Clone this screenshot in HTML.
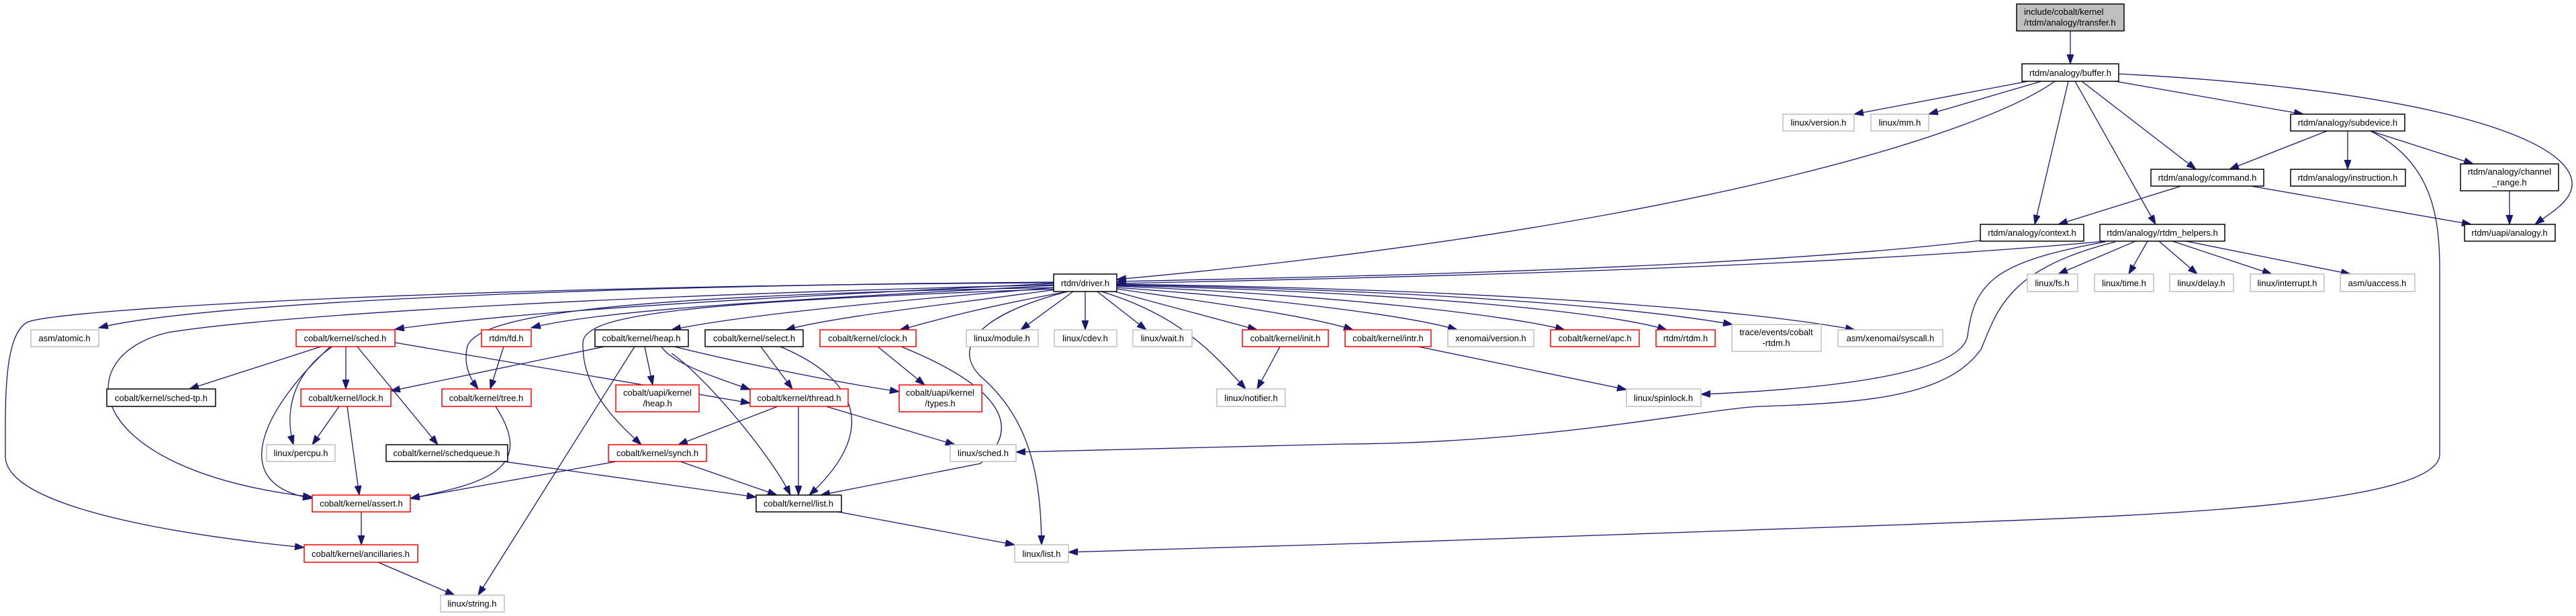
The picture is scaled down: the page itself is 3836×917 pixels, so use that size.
<!DOCTYPE html>
<html><head><meta charset="utf-8"><style>
html,body{margin:0;padding:0;background:#fff;}
svg{display:block;}
text{font-family:"Liberation Sans",Arial,sans-serif;font-size:13px;fill:#000;}
.e{fill:none;stroke:#191970;stroke-width:1.3;marker-end:url(#a);}
.g{fill:#fff;stroke:#bfbfbf;stroke-width:1.5;}
.r{fill:#fff;stroke:#ff0000;stroke-width:1.5;}
.k{fill:#fff;stroke:#000;stroke-width:1.5;}
</style></head><body>
<svg width="3836" height="917" viewBox="0 0 3836 917" xmlns="http://www.w3.org/2000/svg">
<defs><marker id="a" markerUnits="userSpaceOnUse" markerWidth="16" markerHeight="12" refX="14" refY="5" orient="auto"><path d="M0,0 L14,5 L0,10 Z" fill="#191970" stroke="#191970"/></marker></defs>

<!-- edges -->
<path class="e" d="M3083,46 L3083,95"/>
<path class="e" d="M3020,121 L2761,170"/>
<path class="e" d="M3040,121 L2872,170"/>
<path class="e" d="M3060,121 C2950,200 2500,340 1663,416"/>
<path class="e" d="M3080,121 L3030,334"/>
<path class="e" d="M3090,121 L3210,334"/>
<path class="e" d="M3100,121 L3270,252"/>
<path class="e" d="M3150,121 L3430,170"/>
<path class="e" d="M3155,110 C3550,130 3800,190 3828,262 C3840,295 3800,315 3775,334"/>
<path class="e" d="M3465,195 L3320,252"/>
<path class="e" d="M3496,195 L3496,252"/>
<path class="e" d="M3530,195 L3683,244"/>
<path class="e" d="M3530,195 C3620,240 3633,320 3633,400 L3633,677 C3630,760 3100,770 2836,781 C2500,795 2000,810 1591,822"/>
<path class="e" d="M3737,284 L3737,334"/>
<path class="e" d="M3248,277 L3065,334"/>
<path class="e" d="M3352,277 L3680,334"/>
<path class="e" d="M2949,358 C2600,400 2000,412 1663,419"/>
<path class="e" d="M3135,359 C2700,400 2000,415 1663,422"/>
<path class="e" d="M3180,359 L3065,408"/>
<path class="e" d="M3198,359 L3170,408"/>
<path class="e" d="M3215,359 L3272,408"/>
<path class="e" d="M3235,359 L3383,408"/>
<path class="e" d="M3255,359 L3500,408"/>
<path class="e" d="M3135,360 C2970,390 2940,420 2930,500 C2920,560 2700,580 2533,587"/>
<path class="e" d="M3150,360 C2990,400 2975,460 2950,520 C2900,590 2780,600 2620,605 C2530,610 2300,660 2000,661 L1513,673"/>

<!-- from driver -->
<path class="e" d="M1569,420 C900,425 300,450 147,488"/>
<path class="e" d="M1569,422 C1200,440 800,460 588,490"/>
<path class="e" d="M1569,425 C1200,445 900,460 791,488"/>
<path class="e" d="M1572,428 C1300,450 1100,470 1000,491"/>
<path class="e" d="M1580,430 C1400,455 1250,470 1170,491"/>
<path class="e" d="M1590,434 C1450,460 1400,475 1340,491"/>
<path class="e" d="M1598,434 L1520,491"/>
<path class="e" d="M1616,434 L1616,491"/>
<path class="e" d="M1634,434 L1707,491"/>
<path class="e" d="M1660,434 L1872,491"/>
<path class="e" d="M1663,430 C1800,450 1950,470 2015,491"/>
<path class="e" d="M1663,428 C1900,445 2100,470 2170,491"/>
<path class="e" d="M1663,426 C2000,440 2250,470 2330,491"/>
<path class="e" d="M1663,425 C2100,435 2400,465 2482,491"/>
<path class="e" d="M1663,424 C2150,432 2450,460 2580,483"/>
<path class="e" d="M1663,423 C2200,430 2600,460 2762,491"/>
<path class="e" d="M1569,424 C900,440 400,470 250,495 C100,530 120,700 465,740"/>
<path class="e" d="M1569,421 C700,425 80,460 40,480 C5,500 8,600 8,680 C10,760 300,800 453,815"/>
<path class="e" d="M1575,428 C900,440 700,470 695,520 C690,550 705,570 712,579"/>
<path class="e" d="M1580,430 C1000,450 870,470 868,510 C866,580 920,630 955,662"/>
<path class="e" d="M1590,434 C1450,470 1420,520 1460,560 C1530,620 1550,700 1551,811"/>
<path class="e" d="M1640,434 C1760,470 1810,530 1855,579"/>

<!-- lower -->
<path class="e" d="M478,516 L282,579"/>
<path class="e" d="M515,516 L515,579"/>
<path class="e" d="M495,516 C430,560 425,620 437,662"/>
<path class="e" d="M492,516 C400,600 330,720 465,742"/>
<path class="e" d="M532,516 L652,662"/>
<path class="e" d="M588,510 L1117,600"/>
<path class="e" d="M505,605 L465,662"/>
<path class="e" d="M517,605 L535,737"/>
<path class="e" d="M750,516 L730,579"/>
<path class="e" d="M738,605 C800,700 720,720 611,742"/>
<path class="e" d="M900,516 L582,582"/>
<path class="e" d="M960,516 L972,573"/>
<path class="e" d="M945,516 L712,886"/>
<path class="e" d="M985,516 C1000,540 1060,560 1117,580"/>
<path class="e" d="M1000,526 C1050,560 1150,680 1177,737"/>
<path class="e" d="M1000,515 C1100,540 1250,570 1339,583"/>
<path class="e" d="M1133,516 L1180,579"/>
<path class="e" d="M1162,516 C1290,570 1300,650 1205,737"/>
<path class="e" d="M1307,516 L1377,573"/>
<path class="e" d="M1342,516 C1500,580 1520,640 1460,690 L1222,737"/>
<path class="e" d="M1158,605 L1010,662"/>
<path class="e" d="M1189,605 L1189,737"/>
<path class="e" d="M1230,605 L1422,662"/>
<path class="e" d="M918,687 L611,742"/>
<path class="e" d="M1013,687 L1157,737"/>
<path class="e" d="M750,687 L1126,740"/>
<path class="e" d="M538,762 L538,811"/>
<path class="e" d="M563,837 L677,886"/>
<path class="e" d="M1248,762 L1511,811"/>
<path class="e" d="M1906,516 L1872,579"/>
<path class="e" d="M2112,516 L2422,580"/>

<!-- nodes -->
<rect x="3003" y="6" width="160" height="40" fill="#bfbfbf" stroke="#000" stroke-width="1.5"/>
<text x="3014" y="22">include/cobalt/kernel</text><text x="3014" y="38">/rtdm/analogy/transfer.h</text>

<g text-anchor="middle">
<rect class="k" x="3011" y="95" width="144" height="26"/><text x="3083" y="113">rtdm/analogy/buffer.h</text>
<rect class="k" x="3411" y="170" width="170" height="25"/><text x="3496" y="187">rtdm/analogy/subdevice.h</text>
<rect class="k" x="3203" y="252" width="168" height="25"/><text x="3287" y="269">rtdm/analogy/command.h</text>
<rect class="k" x="3411" y="252" width="171" height="25"/><text x="3496" y="269">rtdm/analogy/instruction.h</text>
<rect class="k" x="3664" y="244" width="146" height="40"/><text x="3737" y="260">rtdm/analogy/channel</text><text x="3737" y="276">_range.h</text>
<rect class="k" x="2949" y="334" width="154" height="25"/><text x="3026" y="351">rtdm/analogy/context.h</text>
<rect class="k" x="3127" y="334" width="186" height="25"/><text x="3220" y="351">rtdm/analogy/rtdm_helpers.h</text>
<rect class="k" x="3670" y="334" width="135" height="25"/><text x="3737" y="351">rtdm/uapi/analogy.h</text>
<rect class="g" x="3019" y="408" width="75" height="26"/><text x="3056" y="426">linux/fs.h</text>
<rect class="g" x="3119" y="408" width="88" height="26"/><text x="3163" y="426">linux/time.h</text>
<rect class="g" x="3231" y="408" width="95" height="26"/><text x="3278" y="426">linux/delay.h</text>
<rect class="g" x="3351" y="408" width="110" height="26"/><text x="3406" y="426">linux/interrupt.h</text>
<rect class="g" x="3485" y="408" width="111" height="26"/><text x="3540" y="426">asm/uaccess.h</text>
<rect class="g" x="2655" y="170" width="106" height="25"/><text x="2708" y="187">linux/version.h</text>
<rect class="g" x="2786" y="170" width="86" height="25"/><text x="2829" y="187">linux/mm.h</text>
<rect class="k" x="1569" y="408" width="94" height="26"/><text x="1616" y="426">rtdm/driver.h</text>

<rect class="g" x="46" y="491" width="101" height="25"/><text x="96" y="508">asm/atomic.h</text>
<rect class="r" x="441" y="491" width="147" height="25"/><text x="514" y="508">cobalt/kernel/sched.h</text>
<rect class="r" x="717" y="491" width="74" height="25"/><text x="754" y="508">rtdm/fd.h</text>
<rect class="k" x="886" y="491" width="139" height="25"/><text x="955" y="508">cobalt/kernel/heap.h</text>
<rect class="k" x="1050" y="491" width="146" height="25"/><text x="1123" y="508">cobalt/kernel/select.h</text>
<rect class="r" x="1221" y="491" width="143" height="25"/><text x="1292" y="508">cobalt/kernel/clock.h</text>
<rect class="g" x="1439" y="491" width="107" height="25"/><text x="1492" y="508">linux/module.h</text>
<rect class="g" x="1570" y="491" width="93" height="25"/><text x="1616" y="508">linux/cdev.h</text>
<rect class="g" x="1687" y="491" width="88" height="25"/><text x="1731" y="508">linux/wait.h</text>
<rect class="r" x="1850" y="491" width="128" height="25"/><text x="1914" y="508">cobalt/kernel/init.h</text>
<rect class="r" x="2003" y="491" width="128" height="25"/><text x="2067" y="508">cobalt/kernel/intr.h</text>
<rect class="g" x="2156" y="491" width="128" height="25"/><text x="2220" y="508">xenomai/version.h</text>
<rect class="r" x="2309" y="491" width="132" height="25"/><text x="2375" y="508">cobalt/kernel/apc.h</text>
<rect class="r" x="2466" y="491" width="88" height="25"/><text x="2510" y="508">rtdm/rtdm.h</text>
<rect class="g" x="2579" y="483" width="133" height="40"/><text x="2645" y="499">trace/events/cobalt</text><text x="2645" y="515">-rtdm.h</text>
<rect class="g" x="2737" y="491" width="156" height="25"/><text x="2815" y="508">asm/xenomai/syscall.h</text>

<rect class="k" x="159" y="579" width="162" height="26"/><text x="240" y="597">cobalt/kernel/sched-tp.h</text>
<rect class="r" x="448" y="579" width="134" height="26"/><text x="515" y="597">cobalt/kernel/lock.h</text>
<rect class="r" x="658" y="579" width="133" height="26"/><text x="724" y="597">cobalt/kernel/tree.h</text>
<rect class="r" x="917" y="573" width="124" height="40"/><text x="979" y="589">cobalt/uapi/kernel</text><text x="979" y="605">/heap.h</text>
<rect class="r" x="1117" y="579" width="146" height="26"/><text x="1190" y="597">cobalt/kernel/thread.h</text>
<rect class="r" x="1339" y="573" width="123" height="40"/><text x="1400" y="589">cobalt/uapi/kernel</text><text x="1400" y="605">/types.h</text>
<rect class="g" x="1812" y="579" width="102" height="26"/><text x="1863" y="597">linux/notifier.h</text>
<rect class="g" x="2422" y="579" width="111" height="26"/><text x="2477" y="597">linux/spinlock.h</text>

<rect class="g" x="397" y="662" width="102" height="25"/><text x="448" y="679">linux/percpu.h</text>
<rect class="k" x="575" y="662" width="181" height="25"/><text x="665" y="679">cobalt/kernel/schedqueue.h</text>
<rect class="r" x="906" y="662" width="146" height="25"/><text x="979" y="679">cobalt/kernel/synch.h</text>
<rect class="g" x="1415" y="662" width="98" height="25"/><text x="1464" y="679">linux/sched.h</text>

<rect class="r" x="465" y="737" width="146" height="25"/><text x="538" y="754">cobalt/kernel/assert.h</text>
<rect class="k" x="1126" y="737" width="127" height="25"/><text x="1189" y="754">cobalt/kernel/list.h</text>
<rect class="r" x="453" y="811" width="169" height="26"/><text x="537" y="829">cobalt/kernel/ancillaries.h</text>
<rect class="g" x="1511" y="811" width="80" height="26"/><text x="1551" y="829">linux/list.h</text>
<rect class="g" x="656" y="886" width="95" height="25"/><text x="703" y="903">linux/string.h</text>
</g>
</svg>
</body></html>
